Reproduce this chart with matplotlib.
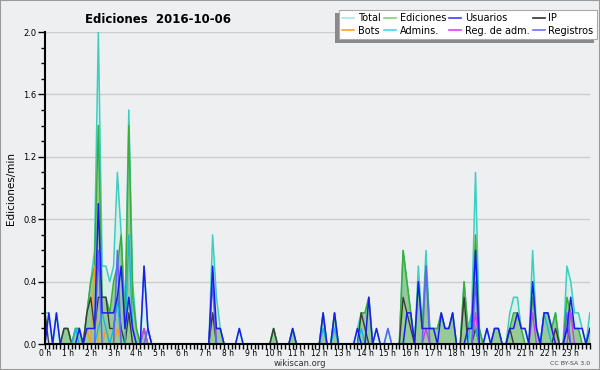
import numpy as np
import matplotlib
matplotlib.use('Agg')
import matplotlib.pyplot as plt
from matplotlib.lines import Line2D
from matplotlib.patches import Rectangle, Shadow

# one value per 10 minute bin (144 bins), edits per minute
total = [0.2, 0.2, 0, 0.2, 0, 0.1, 0.1, 0, 0.1, 0.1, 0, 0.2, 0.4, 0.6, 2.0, 0.5, 0.5, 0.4, 0.5, 1.1, 0.7, 0.2, 1.5, 0.4,
         0.1, 0, 0.5, 0.1, 0, 0, 0, 0, 0, 0, 0, 0, 0, 0, 0, 0, 0, 0, 0, 0, 0.7, 0.3, 0.1, 0,
         0, 0, 0, 0.1, 0, 0, 0, 0, 0, 0, 0, 0, 0.1, 0, 0, 0, 0, 0.1, 0, 0, 0, 0, 0, 0,
         0, 0.2, 0, 0, 0.2, 0, 0, 0, 0, 0, 0.1, 0.2, 0.2, 0.3, 0, 0.1, 0, 0, 0.1, 0, 0, 0, 0.6, 0.4,
         0.2, 0, 0.5, 0.1, 0.6, 0.1, 0.1, 0.1, 0.2, 0.1, 0.1, 0.2, 0, 0, 0.4, 0.1, 0.2, 1.1, 0.1, 0, 0.1, 0, 0.1, 0.1,
         0, 0, 0.2, 0.3, 0.3, 0.1, 0.1, 0, 0.6, 0.1, 0, 0.2, 0.2, 0.1, 0.2, 0, 0, 0.5, 0.4, 0.2, 0.2, 0.1, 0, 0.2]
ediciones = [0, 0, 0, 0, 0, 0.1, 0.1, 0, 0.1, 0.1, 0, 0.2, 0.4, 0.5, 1.4, 0.3, 0.3, 0.2, 0.4, 0.5, 0.7, 0.1, 1.4, 0.3,
             0.1, 0, 0.1, 0, 0, 0, 0, 0, 0, 0, 0, 0, 0, 0, 0, 0, 0, 0, 0, 0, 0.2, 0.1, 0.1, 0,
             0, 0, 0, 0, 0, 0, 0, 0, 0, 0, 0, 0, 0.1, 0, 0, 0, 0, 0.1, 0, 0, 0, 0, 0, 0,
             0, 0.2, 0, 0, 0.2, 0, 0, 0, 0, 0, 0, 0.2, 0.2, 0.3, 0, 0, 0, 0, 0, 0, 0, 0, 0.6, 0.4,
             0.2, 0, 0.4, 0.1, 0.5, 0.1, 0.1, 0.1, 0.2, 0.1, 0.1, 0.2, 0, 0, 0.4, 0.1, 0.1, 0.7, 0.1, 0, 0, 0, 0.1, 0.1,
             0, 0, 0.1, 0.2, 0.2, 0.1, 0, 0, 0.3, 0.1, 0, 0.2, 0.2, 0.1, 0.2, 0, 0, 0.3, 0.2, 0.1, 0.1, 0, 0, 0.1]
usuarios = [0, 0.2, 0, 0.2, 0, 0, 0, 0, 0, 0.1, 0, 0.1, 0.1, 0.1, 0.9, 0.2, 0.2, 0.2, 0.2, 0.3, 0.5, 0.1, 0.3, 0.1,
            0, 0, 0.5, 0.1, 0, 0, 0, 0, 0, 0, 0, 0, 0, 0, 0, 0, 0, 0, 0, 0, 0.5, 0.1, 0.1, 0,
            0, 0, 0, 0.1, 0, 0, 0, 0, 0, 0, 0, 0, 0, 0, 0, 0, 0, 0.1, 0, 0, 0, 0, 0, 0,
            0, 0.2, 0, 0, 0.2, 0, 0, 0, 0, 0, 0.1, 0, 0, 0.3, 0, 0.1, 0, 0, 0, 0, 0, 0, 0, 0.2,
            0.2, 0, 0.4, 0.1, 0.1, 0.1, 0.1, 0, 0.2, 0.1, 0.1, 0.2, 0, 0, 0, 0.1, 0.1, 0.6, 0, 0, 0.1, 0, 0.1, 0.1,
            0, 0, 0.1, 0.1, 0.2, 0.1, 0.1, 0, 0.4, 0.1, 0, 0.2, 0.2, 0.1, 0, 0, 0, 0.1, 0.3, 0.1, 0.1, 0.1, 0, 0.1]

# the smaller series, given as (bin, value)
ip_bins = [0, 5, 6, 11, 12, 13, 14, 15, 16, 17, 18, 19, 20, 22, 44, 60, 83, 84, 94, 95, 96, 110, 113, 122, 134, 137]
ip_vals = [0.2, 0.1, 0.1, 0.2, 0.3, 0.1, 0.3, 0.3, 0.3, 0.1, 0.1, 0.3, 0.1, 0.2, 0.2, 0.1, 0.2, 0.1, 0.3, 0.2, 0.1, 0.3, 0.1, 0.1, 0.1, 0.1]
bots_bins = [11, 13, 16, 19]
bots_vals = [0.1, 0.5, 0.1, 0.1]
admins_bins = [8, 14, 15, 16, 18, 19, 22, 23, 73, 76, 83, 112, 113, 131, 132]
admins_vals = [0.1, 0.1, 0.2, 0.1, 0.1, 0.3, 0.7, 0.1, 0.1, 0.1, 0.1, 0.2, 0.1, 0.2, 0.1]
regadm_bins = [26, 44, 100, 113, 128, 138]
regadm_vals = [0.1, 0.4, 0.1, 0.2, 0.2, 0.2]
registros_bins = [14, 19, 27, 44, 90, 100, 113, 137]
registros_vals = [0.6, 0.6, 0.1, 0.4, 0.1, 0.5, 0.4, 0.2]

hour_labels = ['%d h' % h for h in range(24)]

def sparse(bins, vals, n=144):
    a = np.zeros(n)
    a[bins] = vals
    return a

x = np.arange(144) / 6.
bg = '#eeeff1'

fig = plt.figure(figsize=(6, 3.7), dpi=100, facecolor=bg)
fig.patches.append(Rectangle((0, 0), 1, 1, transform=fig.transFigure, fill=False,
                             edgecolor='#9a9a9a', linewidth=1.5))
ax = fig.add_axes([0.075, 0.070, 0.908, 0.8435])
ax.set_facecolor(bg)

ax.fill_between(x, total, color='#d6efea', linewidth=0)
ax.fill_between(x, ediciones, color='#8fc88f', alpha=0.9, linewidth=0)
ax.plot(x, total, color='#3ccfc0', lw=1.1)
ax.plot(x, ediciones, color='#3cad3c', lw=1.1)
ax.plot(x, sparse(bots_bins, bots_vals), color='#ff9a1a', lw=1.0)
ax.plot(x, sparse(ip_bins, ip_vals), color='#3a3a3a', lw=1.0)
ax.plot(x, sparse(admins_bins, admins_vals), color='#18b6e0', lw=1.0)
ax.plot(x, sparse(regadm_bins, regadm_vals), color='#cc3cf0', lw=1.0)
ax.plot(x, sparse(registros_bins, registros_vals), color='#6262ff', lw=1.1)
ax.plot(x, usuarios, color='#1c1cf0', lw=1.1)

ax.set_xlim(0, 143 / 6.)
ax.set_ylim(0, 2.0)
ax.set_yticks(np.arange(0, 2.01, 0.4))
ax.set_yticklabels(['%.1f' % v for v in np.arange(0, 2.01, 0.4)])
ax.set_yticks(np.arange(0, 2.01, 0.1), minor=True)
ax.set_xticks(np.arange(24))
ax.set_xticklabels(hour_labels)
ax.set_xticks(np.arange(144) / 6., minor=True)
ax.tick_params(axis='both', which='both', direction='out', color='black')
ax.tick_params(axis='x', which='both', length=3.5, width=1, labelsize=5.5, pad=0)
ax.tick_params(axis='y', which='major', length=5, width=1, labelsize=6, pad=1)
ax.tick_params(axis='y', which='minor', length=3, width=1)
ax.grid(axis='y', color='#cccccc', lw=1)
ax.set_axisbelow(True)
for s in ['top', 'right']:
    ax.spines[s].set_visible(False)
for s in ['left', 'bottom']:
    ax.spines[s].set_linewidth(1.5)
ax.set_ylabel('Ediciones/min', fontsize=7.5, labelpad=5)

fig.text(0.142, 0.947, 'Ediciones  2016-10-06', fontsize=8.5, fontweight='bold', ha='left', va='center')
fig.text(0.5, 0.018, 'wikiscan.org', fontsize=6, ha='center', va='center', color='#333333')
fig.text(0.983, 0.018, 'CC BY-SA 3.0', fontsize=4.5, ha='right', va='center', color='#444444')

# legend, filled column by column
names = ['Total', 'Bots', 'Ediciones', 'Admins.', 'Usuarios', 'Reg. de adm.', 'IP', 'Registros']
leg_colors = ['#a8e8e6', '#ffa030', '#80d080', '#40d8e8', '#4040f0', '#e040ff', '#303030', '#7070ff']
handles = [Line2D([], [], color=c, lw=1.2) for c in leg_colors]
leg = fig.legend(handles, names, ncol=4, loc='upper right', bbox_to_anchor=(0.995, 0.973),
                 fontsize=7, frameon=True, fancybox=False, edgecolor='#aaaaaa', framealpha=1,
                 handlelength=1.2, handletextpad=0.4, columnspacing=0.35, labelspacing=0.25,
                 borderpad=0.35, borderaxespad=0)
leg.get_frame().set_facecolor('white')
leg.get_frame().set_linewidth(0.8)
fig.canvas.draw()
shadow = Shadow(leg.get_frame(), -2.5, -2.5, facecolor='#8a8a8a', edgecolor='none', alpha=1)
shadow.set_zorder(leg.get_zorder() - 0.5)
fig.add_artist(shadow)

fig.savefig('out.png', dpi=100, facecolor=bg)
